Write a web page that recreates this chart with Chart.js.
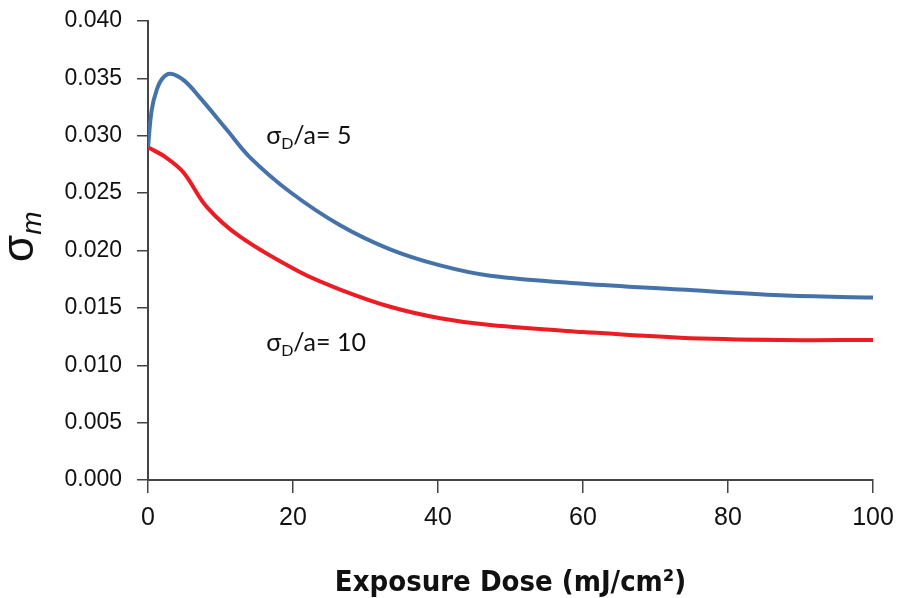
<!DOCTYPE html>
<html>
<head>
<meta charset="utf-8">
<script src="https://cdn.jsdelivr.net/npm/chart.js@4"></script>
<style>
  html, body { margin: 0; padding: 0; background: #fff; }
  #wrap { width: 898px; height: 598px; }
</style>
</head>
<body>
<div id="wrap"><canvas id="sigmaChart" width="898" height="598"></canvas></div>
<script>
// dose (mJ/cm2) and sigma_m
const doseA = [0, 0.5, 1.2, 2, 3.1, 5, 7.2, 10.9, 14.1, 19.6, 26.5, 33.4, 40.3, 47.2, 60, 73.4, 87.2, 100];
const sigmaA = [0.0290, 0.0322, 0.0340, 0.0350, 0.0354, 0.0348, 0.0333, 0.0305, 0.0281, 0.0251, 0.0222, 0.0201, 0.0187, 0.0178, 0.0171, 0.0166, 0.0161, 0.0159];
const doseB = [0, 2.5, 4.9, 8.1, 12.7, 21, 26.5, 33.4, 40.3, 47.2, 60, 73.4, 87.2, 100];
const sigmaB = [0.0290, 0.0281, 0.0268, 0.0238, 0.0212, 0.0181, 0.0166, 0.0151, 0.0141, 0.0135, 0.0129, 0.0124, 0.0122, 0.0122];
const curveLabels = [
    { main: 'σ', sub: 'D', rest: '/a= 5', x: 16.3, y: 0.0293 },
    { main: 'σ', sub: 'D', rest: '/a= 10', x: 16.3, y: 0.01125 }
];
const xTicks = [0, 20, 40, 60, 80, 100];
const yTicks = [0, 0.005, 0.010, 0.015, 0.020, 0.025, 0.030, 0.035, 0.040];

const toPoints = (xs, ys) => xs.map((x, i) => ({ x: x, y: ys[i] }));

const labelPlugin = {
    id: 'labelPlugin',
    afterDraw(chart) {
        const ctx = chart.ctx;
        const xs = chart.scales.x, ys = chart.scales.y;
        ctx.save();
        ctx.fillStyle = '#111';
        ctx.textBaseline = 'alphabetic';
        ctx.textAlign = 'left';
        curveLabels.forEach(l => {
            let px = xs.getPixelForValue(l.x);
            const py = ys.getPixelForValue(l.y);
            ctx.font = '25px Lato, "Open Sans", sans-serif';
            ctx.fillText(l.main, px, py);
            px += ctx.measureText(l.main).width;
            ctx.font = '16px Lato, "Open Sans", sans-serif';
            ctx.fillText(l.sub, px, py + 5);
            px += ctx.measureText(l.sub).width;
            ctx.font = '25px Lato, "Open Sans", sans-serif';
            ctx.fillText(l.rest, px, py);
        });

        // y axis title: sigma with italic m subscript, rotated
        ctx.translate(33, 262);
        ctx.rotate(-Math.PI / 2);
        ctx.font = '44px "Liberation Sans", Arial, sans-serif';
        ctx.fillText('σ', 0, 0);
        const w = ctx.measureText('σ').width;
        ctx.font = 'italic 28px "Liberation Sans", Arial, sans-serif';
        ctx.fillText('m', w, 8);
        ctx.restore();
    }
};

new Chart(document.getElementById('sigmaChart'), {
    type: 'scatter',
    data: {
        datasets: [{
            label: 'σD/a = 5',
            data: toPoints(doseA, sigmaA),
            showLine: true,
            borderColor: '#4672aa',
            borderWidth: 4,
            pointRadius: 0,
            tension: 0.35
        }, {
            label: 'σD/a = 10',
            data: toPoints(doseB, sigmaB),
            showLine: true,
            borderColor: '#ec1c24',
            borderWidth: 4,
            pointRadius: 0,
            tension: 0.35
        }]
    },
    options: {
        responsive: false,
        animation: false,
        layout: { padding: { left: 0, right: 25, top: 21, bottom: 0 } },
        plugins: { legend: { display: false }, tooltip: { enabled: false } },
        scales: {
            x: {
                type: 'linear',
                min: 0,
                max: 100,
                afterFit: s => { s.height = 118; s.paddingLeft = 0; s.paddingRight = 0; },
                afterBuildTicks: s => { s.ticks = xTicks.map(v => ({ value: v })); },
                grid: { drawOnChartArea: false, drawTicks: true, tickLength: 13, color: '#444', lineWidth: 1.5 },
                border: { display: true, color: '#444', width: 2 },
                ticks: {
                    color: '#111',
                    padding: 10,
                    font: { family: '"Liberation Sans", Arial, sans-serif', size: 25 }
                },
                title: {
                    display: true,
                    text: 'Exposure Dose (mJ/cm²)',
                    color: '#111',
                    padding: { top: 0, bottom: 0 },
                    font: { family: '"DejaVu Sans Condensed", "Liberation Sans", Arial, sans-serif', size: 29, weight: 'bold', lineHeight: 1 }
                }
            },
            y: {
                type: 'linear',
                min: 0,
                max: 0.04,
                afterFit: s => { s.width = 148; s.paddingTop = 0; s.paddingBottom = 0; },
                afterBuildTicks: s => { s.ticks = yTicks.map(v => ({ value: v })); },
                grid: { drawOnChartArea: false, drawTicks: true, tickLength: 11, color: '#444', lineWidth: 1.5 },
                border: { display: true, color: '#444', width: 2 },
                ticks: {
                    color: '#111',
                    padding: 15,
                    font: { family: '"Liberation Sans", Arial, sans-serif', size: 23 },
                    callback: v => v.toFixed(3)
                }
            }
        }
    },
    plugins: [labelPlugin]
});
</script>
</body>
</html>
